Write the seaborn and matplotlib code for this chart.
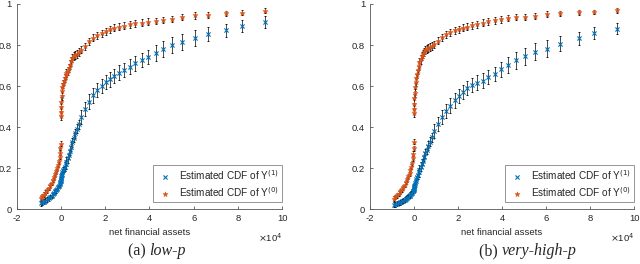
import numpy as np
import seaborn as sns
import matplotlib.pyplot as plt

# quantile grid of net financial assets (x 1e4), shared by both panels
x_grid = [-0.92, -0.85, -0.78, -0.70, -0.62, -0.55, -0.48, -0.42, -0.36, -0.30,
          -0.25, -0.20, -0.16, -0.12, -0.09, -0.06, -0.04, -0.02, -0.01, 0.0,
          0.005, 0.01, 0.02, 0.03, 0.05, 0.07, 0.10, 0.13, 0.17, 0.21,
          0.25, 0.30, 0.35, 0.40, 0.46, 0.52, 0.58, 0.65, 0.72, 0.80,
          0.93, 1.10, 1.28, 1.46, 1.64, 1.84, 2.03, 2.21, 2.42, 2.63,
          2.86, 3.12, 3.34, 3.66, 3.94, 4.28, 4.62, 5.04, 5.49, 6.04,
          6.65, 7.48, 8.16, 9.21]

# (a) low-p
cdf1_low = [0.030, 0.034, 0.038, 0.043, 0.048, 0.054, 0.060, 0.066, 0.073, 0.080,
            0.087, 0.094, 0.101, 0.108, 0.115, 0.122, 0.128, 0.134, 0.139, 0.145,
            0.150, 0.155, 0.160, 0.165, 0.172, 0.180, 0.190, 0.198, 0.208, 0.220,
            0.232, 0.248, 0.265, 0.285, 0.305, 0.327, 0.348, 0.370, 0.392, 0.415,
            0.450, 0.490, 0.525, 0.555, 0.582, 0.601, 0.619, 0.633, 0.650, 0.666,
            0.679, 0.695, 0.711, 0.727, 0.743, 0.761, 0.782, 0.799, 0.816, 0.833,
            0.854, 0.872, 0.893, 0.911]
cdf0_low = [0.055, 0.063, 0.072, 0.082, 0.093, 0.105, 0.117, 0.130, 0.143, 0.157,
            0.170, 0.185, 0.200, 0.218, 0.235, 0.255, 0.275, 0.298, 0.320, 0.455,
            0.475, 0.500, 0.525, 0.550, 0.575, 0.595, 0.610, 0.625, 0.640, 0.655,
            0.665, 0.675, 0.690, 0.705, 0.720, 0.735, 0.745, 0.752, 0.758, 0.765,
            0.778, 0.795, 0.818, 0.835, 0.848, 0.858, 0.867, 0.876, 0.884, 0.890,
            0.895, 0.901, 0.905, 0.909, 0.913, 0.918, 0.922, 0.928, 0.937, 0.944,
            0.947, 0.955, 0.958, 0.967]

# (b) very-high-p
cdf1_vhigh = [0.022, 0.025, 0.028, 0.031, 0.035, 0.039, 0.043, 0.047, 0.052, 0.057,
              0.062, 0.067, 0.072, 0.077, 0.082, 0.087, 0.091, 0.095, 0.098, 0.102,
              0.106, 0.110, 0.115, 0.120, 0.128, 0.136, 0.146, 0.156, 0.168, 0.180,
              0.192, 0.207, 0.222, 0.237, 0.255, 0.272, 0.290, 0.310, 0.330, 0.350,
              0.380, 0.415, 0.450, 0.480, 0.505, 0.530, 0.553, 0.572, 0.590, 0.605,
              0.617, 0.627, 0.643, 0.659, 0.681, 0.702, 0.725, 0.745, 0.768, 0.783,
              0.807, 0.833, 0.857, 0.880]
cdf0_vhigh = [0.052, 0.060, 0.068, 0.077, 0.087, 0.097, 0.108, 0.120, 0.133, 0.147,
              0.160, 0.175, 0.190, 0.208, 0.225, 0.248, 0.270, 0.298, 0.330, 0.470,
              0.490, 0.515, 0.540, 0.565, 0.595, 0.620, 0.640, 0.660, 0.680, 0.700,
              0.715, 0.730, 0.745, 0.758, 0.768, 0.775, 0.780, 0.785, 0.790, 0.795,
              0.805, 0.820, 0.838, 0.852, 0.862, 0.871, 0.878, 0.884, 0.890, 0.896,
              0.902, 0.908, 0.915, 0.920, 0.925, 0.930, 0.935, 0.938, 0.943, 0.951,
              0.954, 0.959, 0.961, 0.970]

# error bar half widths (read roughly, same in both panels)
err1 = [0.012] * 19 + [0.015] * 9 + [0.022] * 12 + [0.035] * 15 + [0.040] * 5 + [0.035, 0.032, 0.030, 0.028]
err0 = [0.012] * 19 + [0.020] * 9 + [0.020] * 12 + [0.017] * 15 + [0.015] * 5 + [0.013, 0.013, 0.012, 0.012]

panels = [(cdf1_low, cdf0_low, "low-p"), (cdf1_vhigh, cdf0_vhigh, "very-high-p")]
labels = ["(a)", "(b)"]

blue = "#0072BD"
orange = "#D95319"
axis_col = "#555555"

sns.set_style("ticks")
plt.rcParams["font.family"] = ["Liberation Sans", "DejaVu Sans"]

fig = plt.figure(figsize=(6.4, 2.64), dpi=100)
positions = [[0.026, 0.207, 0.415, 0.778], [0.578, 0.207, 0.413, 0.778]]

for i, (c1, c0, name) in enumerate(panels):
    ax = fig.add_axes(positions[i])
    ax.errorbar(x_grid, c1, yerr=err1, fmt="none", ecolor="k", elinewidth=0.5,
                capsize=1, capthick=0.6)
    ax.errorbar(x_grid, c0, yerr=err0, fmt="none", ecolor="k", elinewidth=0.5,
                capsize=1, capthick=0.6)
    sns.scatterplot(x=x_grid, y=c1, marker="x", color=blue, s=9, linewidth=0.8,
                    ax=ax, label="Estimated CDF of Y$^{(1)}$", zorder=3)
    sns.scatterplot(x=x_grid, y=c0, marker="*", color=orange, edgecolor=orange,
                    s=14, linewidth=0.4, ax=ax, label="Estimated CDF of Y$^{(0)}$", zorder=3)

    ax.set_xlim(-2, 10)
    ax.set_ylim(0, 1)
    ax.set_xticks(range(-2, 11, 2))
    ax.set_xticklabels([str(t) for t in range(-2, 11, 2)])
    ax.set_yticks([0, 0.2, 0.4, 0.6, 0.8, 1])
    ax.set_yticklabels(["0", "0.2", "0.4", "0.6", "0.8", "1"])
    ax.tick_params(direction="in", length=2.5, width=0.6, colors=axis_col,
                   labelsize=6.8, labelcolor="#262626", pad=3.5)
    sns.despine(ax=ax)
    for sp in ["left", "bottom"]:
        ax.spines[sp].set_color(axis_col)
        ax.spines[sp].set_linewidth(0.6)
    ax.set_xlabel("net financial assets", fontsize=6.8, color="#262626", labelpad=3.5)
    ax.text(1.0, -0.105, r"$\times$10$^4$", transform=ax.transAxes, ha="right",
            va="top", fontsize=6.8, color="#262626")

    leg = ax.legend(loc="lower right", bbox_to_anchor=(1.0, 0.035), fontsize=7.2,
                    frameon=True, fancybox=False, handletextpad=0.6,
                    handlelength=1.6, borderpad=0.35, labelspacing=0.3,
                    borderaxespad=0.0)
    leg.get_frame().set_edgecolor("#666666")
    leg.get_frame().set_linewidth(0.6)

    ax.text(0.5, -0.165, labels[i] + " ", transform=ax.transAxes, ha="right",
            va="top", fontsize=11.5, family="Liberation Serif")
    ax.text(0.5, -0.165, name, transform=ax.transAxes, ha="left", va="top",
            fontsize=11.5, family="Liberation Serif", style="italic")

fig.savefig("out.png", dpi=100)
